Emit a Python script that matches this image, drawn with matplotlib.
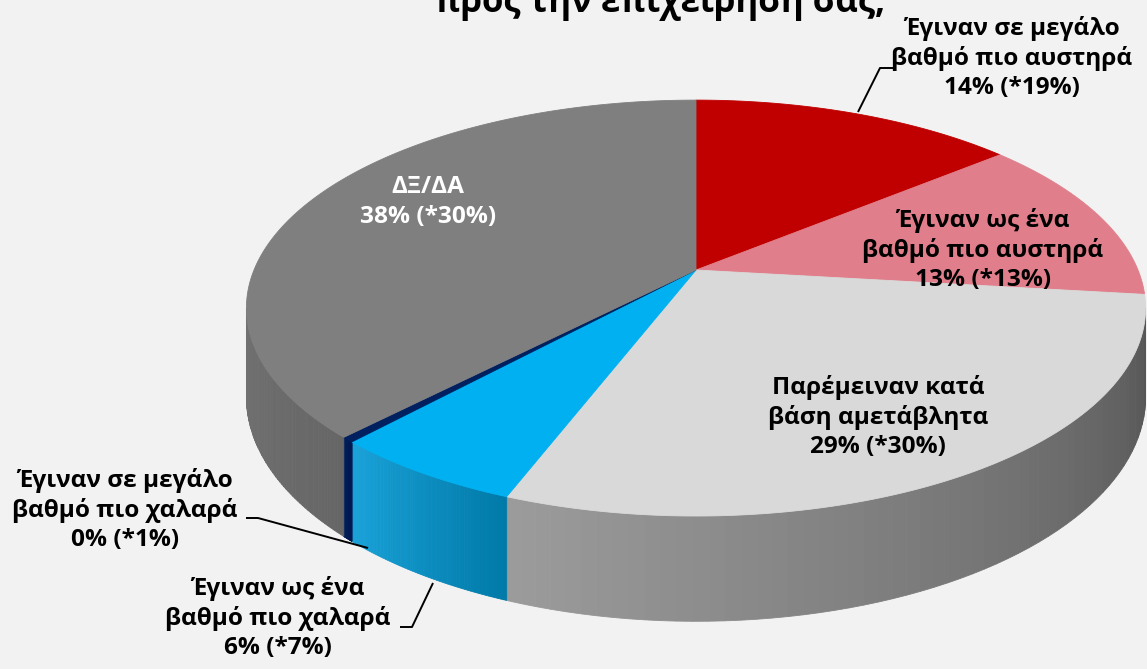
import numpy as np
import matplotlib
matplotlib.use('Agg')
import matplotlib.pyplot as plt
from matplotlib.patches import Polygon
from matplotlib.colors import to_rgb

# data, clockwise from 12 o'clock
NAMES = [
    'Έγιναν σε μεγάλο\nβαθμό πιο αυστηρά',
    'Έγιναν ως ένα\nβαθμό πιο αυστηρά',
    'Παρέμειναν κατά\nβάση αμετάβλητα',
    'Έγιναν ως ένα\nβαθμό πιο χαλαρά',
    'Έγιναν σε μεγάλο\nβαθμό πιο χαλαρά',
    'ΔΞ/ΔΑ',
]
SHARES = [14, 13, 29, 6, 0.4, 38]
PREVIOUS = [19, 13, 30, 7, 1, 30]
TITLE = 'προς την επιχείρησή σας;'

TOP_COLORS = ['#c00000', '#e07f8b', '#d9d9d9', '#00b0f0', '#002060', '#7f7f7f']
WALL_COLORS = [('#c00000', '#c00000'), ('#e07f8b', '#e07f8b'),
               ('#9c9c9c', '#545454'), ('#1aa3da', '#007aa8'),
               ('#002060', '#00184e'), ('#727272', '#666666')]
TEXT_COLORS = ['black', 'black', 'black', 'black', 'black', 'white']
LABEL_XY = [(1012, 58), (983, 250), (878, 417), (278, 618), (125, 510), (428, 202)]
LEADERS = {
    0: [(858, 112), (880, 68), (893, 68)],
    3: [(433, 583), (412, 627), (400, 627)],
    4: [(246, 518), (258, 518), (368, 548)],
}

W, H = 1147, 669
CX, CY = 696, 270          # apex of the pie on screen
A, B, P = 442, 201, 0.183  # radii and perspective factor
DEPTH = 86


def top_pt(phi):
    r = np.radians(phi)
    d = 1 + P * np.sin(r)
    return CX + A * np.cos(r) / d, CY - B * np.sin(r) / d


def bot_pt(phi):
    x, y = top_pt(phi)
    d = 1 + P * np.sin(np.radians(phi))
    return x, y + DEPTH / d


fig = plt.figure(figsize=(W / 100, H / 100), dpi=100, facecolor='#f2f2f2')
ax = fig.add_axes([0, 0, 1, 1])
ax.set_xlim(0, W)
ax.set_ylim(H, 0)
ax.axis('off')

total = sum(SHARES)
bounds = 90 - np.concatenate([[0], np.cumsum(SHARES)]) / total * 360
ext = np.degrees(np.arcsin(-P))
vis_lo, vis_hi = -180 - ext, ext   # visible front wall range

# side walls
for i in range(len(SHARES)):
    hi, lo = bounds[i], bounds[i + 1]
    a, b = max(lo, vis_lo), min(hi, vis_hi)
    if a >= b:
        continue
    c0, c1 = np.array(to_rgb(WALL_COLORS[i][0])), np.array(to_rgb(WALL_COLORS[i][1]))
    edges = np.linspace(a, b, 60)
    for k in range(len(edges) - 1):
        p0, p1 = edges[k], edges[k + 1]
        t = (0.5 * (p0 + p1) - a) / (b - a)
        col = c0 + (c1 - c0) * t
        ph = np.linspace(p0, p1, 4)
        tx, ty = top_pt(ph)
        bx, by = bot_pt(ph)
        pts = np.column_stack([np.concatenate([tx, bx[::-1]]),
                               np.concatenate([ty, by[::-1]])])
        ax.add_patch(Polygon(pts, closed=True, fc=col, ec=col, lw=0.6, zorder=2))

# top faces
for i in range(len(SHARES)):
    ph = np.linspace(bounds[i], bounds[i + 1], 200)
    x, y = top_pt(ph)
    pts = np.vstack([[CX, CY], np.column_stack([x, y])])
    ax.add_patch(Polygon(pts, closed=True, fc=TOP_COLORS[i], ec=TOP_COLORS[i],
                         lw=0.6, zorder=3))

# labels
FONT = ['Open Sans', 'DejaVu Sans']
for i, name in enumerate(NAMES):
    txt = f'{name}\n{round(SHARES[i])}% (*{PREVIOUS[i]}%)'
    ax.text(*LABEL_XY[i], txt, ha='center', va='center', ma='center',
            fontsize=17.6, fontweight='bold', family=FONT,
            color=TEXT_COLORS[i], linespacing=1.28, zorder=5)

for i, pts in LEADERS.items():
    xs, ys = zip(*pts)
    ax.plot(xs, ys, color='black', lw=1.4, zorder=4, solid_capstyle='butt')

# title sits mostly above the frame, as in the source
ax.text(660, 12, TITLE, ha='center', va='baseline', fontsize=25,
        fontweight='bold', family=FONT, color='black', zorder=5)

fig.savefig('out.png', dpi=100, facecolor=fig.get_facecolor())
